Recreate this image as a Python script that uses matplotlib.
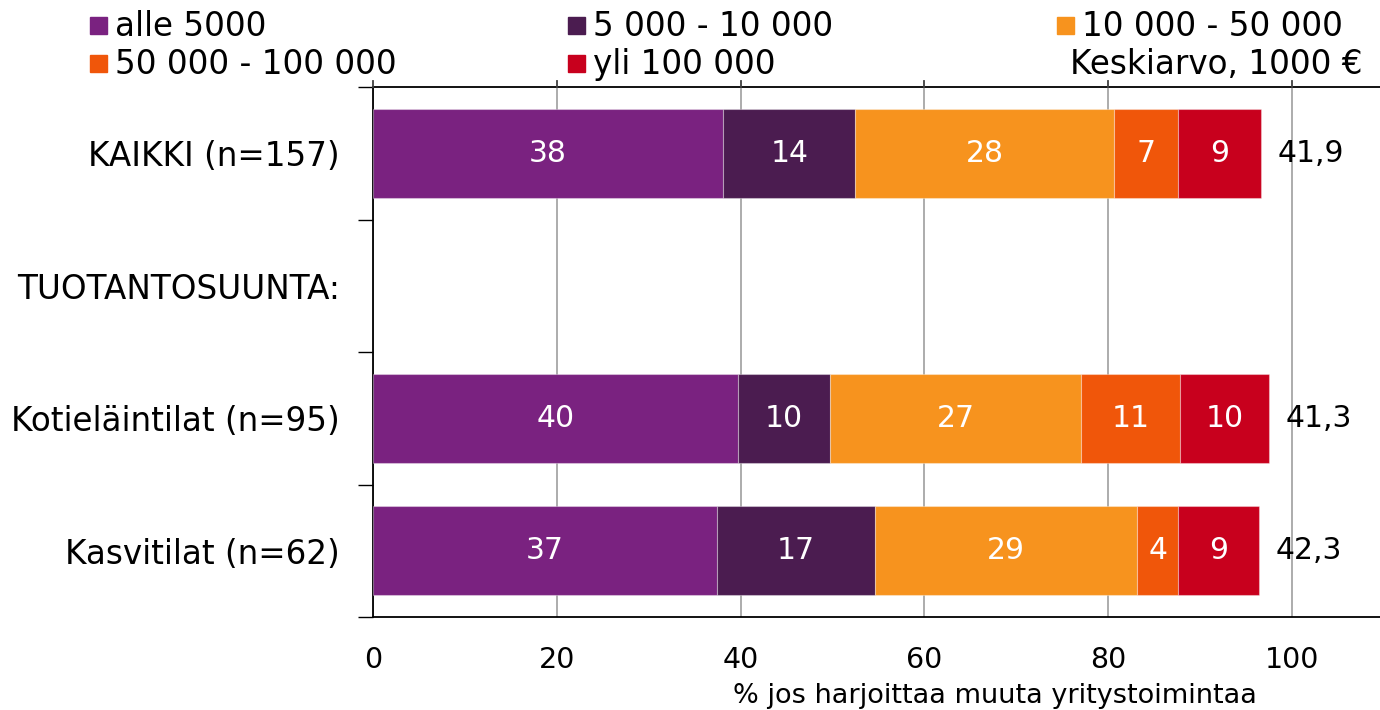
import numpy as np
import matplotlib.pyplot as plt
from matplotlib.patches import Rectangle

# categories, top to bottom (row 2 is a heading with no bar)
categories = ['KAIKKI (n=157)', 'TUOTANTOSUUNTA:', 'Kotieläintilat (n=95)', 'Kasvitilat (n=62)']
series = ['alle 5000', '5 000 - 10 000', '10 000 - 50 000', '50 000 - 100 000', 'yli 100 000']
colors = ['#7A2280', '#4B1C50', '#F7931E', '#F0560A', '#C8001D']

# share of respondents per class (%), NaN for the heading row
alle_5000 = [38.1, np.nan, 39.7, 37.4]
v5_10 = [14.4, np.nan, 10.0, 17.2]
v10_50 = [28.1, np.nan, 27.4, 28.6]
v50_100 = [7.0, np.nan, 10.7, 4.4]
yli_100 = [9.1, np.nan, 9.7, 8.8]
keskiarvo = ['41,9', '', '41,3', '42,3']

values = [alle_5000, v5_10, v10_50, v50_100, yli_100]

fig = plt.figure(figsize=(13.8, 7.1), dpi=100)
ax = fig.add_axes([373 / 1380, 1 - 617 / 710, 1007 / 1380, 530 / 710])

y = np.arange(len(categories))
ok = ~np.isnan(np.array(alle_5000, dtype=float))
left = np.zeros(ok.sum())
for vals, col in zip(values, colors):
    vals = np.array(vals, dtype=float)[ok]
    bars = ax.barh(y[ok], vals, left=left, height=0.67, color=col,
                   edgecolor=(1, 1, 1, 0.35), linewidth=0.8, zorder=3)
    ax.bar_label(bars, labels=[f'{v:.0f}' for v in vals], label_type='center',
                 color='white', fontsize=21.5)
    left += vals

# mean values to the right of each bar
for yi, tot, txt in zip(y[ok], left, np.array(keskiarvo)[ok]):
    ax.text(tot + 1.8, yi, txt, va='center', ha='left', fontsize=21.5)

ax.set_xlim(0, 109.6)
ax.set_ylim(3.5, -0.5)
ax.set_xticks([0, 20, 40, 60, 80, 100])
ax.tick_params(axis='x', which='major', length=0, pad=21, labelsize=20.5)
ax.xaxis.grid(True, color='#A6A6A6', linewidth=1.3, zorder=0)
ax.set_axisbelow(True)

# y: ticks at row boundaries, labels at row centres
ax.set_yticks([-0.5, 0.5, 1.5, 2.5, 3.5])
ax.set_yticklabels([])
ax.set_yticks(y, minor=True)
ax.set_yticklabels(categories, minor=True, fontsize=23.5)
ax.tick_params(axis='y', which='major', length=11, width=1, direction='out')
ax.tick_params(axis='y', which='minor', length=0, pad=24)

for s in ['left', 'bottom', 'top']:
    ax.spines[s].set_linewidth(1.3)
    ax.spines[s].set_color('black')
ax.spines['right'].set_visible(False)

# short tick marks poking above the top spine
for xv in [0, 20, 40, 60, 80, 100]:
    ax.plot([xv, xv], [-0.5, -0.545], color='#404040', lw=1.3,
            clip_on=False, zorder=4)

ax.set_xlabel('% jos harjoittaa muuta yritystoimintaa', fontsize=19.5)
ax.xaxis.set_label_coords(0.618, -0.125)

# legend drawn by hand in figure pixels
col_x = [90, 568, 1057]
row_base = [36, 74]
W, H = 1380, 710
for i, (lab, col) in enumerate(zip(series, colors)):
    cx = col_x[i % 3]
    rb = row_base[i // 3]
    fig.patches.append(Rectangle((cx / W, 1 - (rb - 2) / H), 17 / W, 17 / H,
                                 transform=fig.transFigure, color=col))
    fig.text((cx + 25) / W, 1 - rb / H, lab, va='baseline', ha='left',
             fontsize=23.5)
fig.text(1363 / W, 1 - row_base[1] / H, 'Keskiarvo, 1000 €', va='baseline',
         ha='right', fontsize=23.5)

fig.savefig('out.png', dpi=100)
